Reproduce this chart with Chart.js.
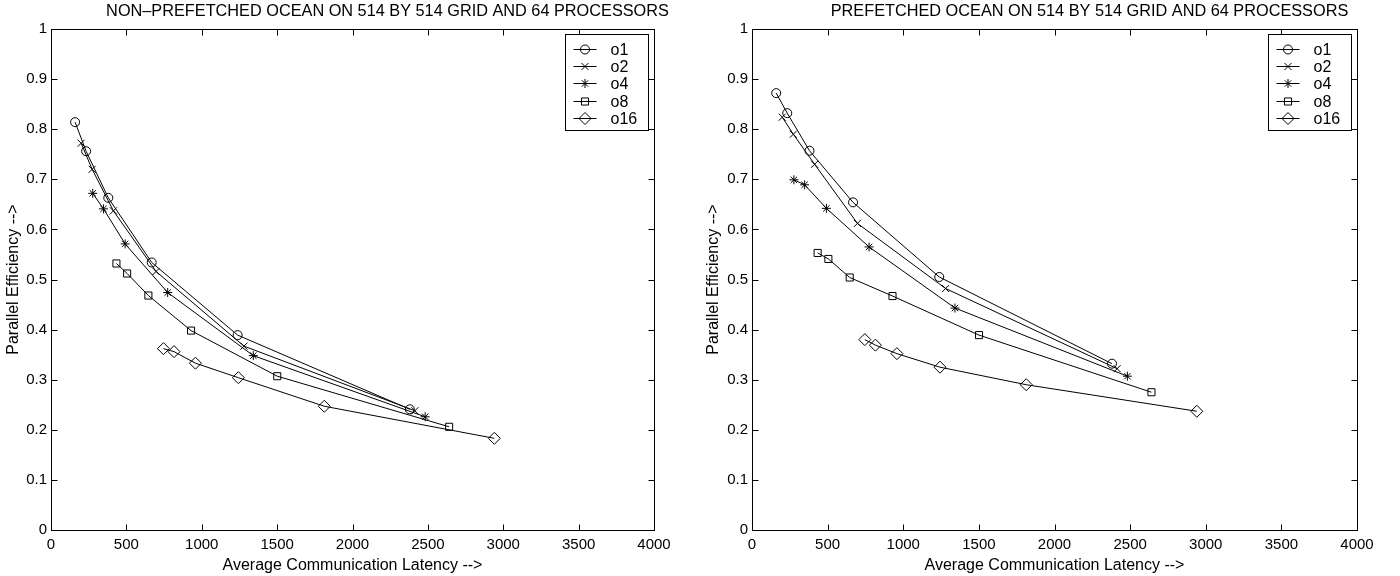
<!DOCTYPE html>
<html>
<head>
<meta charset="utf-8">
<script src="https://cdn.jsdelivr.net/npm/chart.js@4.4.0/dist/chart.umd.min.js"></script>
<style>
  html, body { margin: 0; padding: 0; background: #fff; }
  #wrap { position: relative; width: 1400px; height: 576px; }
  .pane { position: absolute; top: 0; width: 700px; height: 576px; }
</style>
</head>
<body>
<div id="wrap">
  <div class="pane" style="left:0"><canvas id="leftChart" width="700" height="576"></canvas></div>
  <div class="pane" style="left:700px"><canvas id="rightChart" width="700" height="576"></canvas></div>
</div>
<script>
// Series names and average communication latency (x) per series
const seriesNames = ['o1', 'o2', 'o4', 'o8', 'o16'];
const latO1  = [160, 233, 380, 668, 1238, 2380];
const latO2  = [200, 273, 414, 697, 1280, 2414];
const latO4  = [277, 348, 492, 774, 1342, 2482];
const latO8  = [434, 505, 646, 929, 1501, 2641];
const latO16 = [746, 816, 958, 1243, 1813, 2941];

// Parallel efficiency, non-prefetched
const npO1  = [0.814, 0.756, 0.663, 0.534, 0.389, 0.241];
const npO2  = [0.772, 0.720, 0.637, 0.516, 0.367, 0.238];
const npO4  = [0.672, 0.641, 0.571, 0.474, 0.348, 0.226];
const npO8  = [0.532, 0.512, 0.468, 0.398, 0.307, 0.206];
const npO16 = [0.362, 0.356, 0.333, 0.304, 0.247, 0.183];

// Parallel efficiency, prefetched
const pfO1  = [0.872, 0.832, 0.757, 0.654, 0.505, 0.332];
const pfO2  = [0.824, 0.790, 0.730, 0.612, 0.482, 0.322];
const pfO4  = [0.699, 0.689, 0.642, 0.565, 0.443, 0.307];
const pfO8  = [0.553, 0.541, 0.504, 0.467, 0.389, 0.275];
const pfO16 = [0.380, 0.369, 0.352, 0.325, 0.290, 0.237];

// Tick values
const xTicks = [0, 500, 1000, 1500, 2000, 2500, 3000, 3500, 4000];
const yTicks = [0, 0.1, 0.2, 0.3, 0.4, 0.5, 0.6, 0.7, 0.8, 0.9, 1];

const lats = [latO1, latO2, latO4, latO8, latO16];
const markers = [
  { style: 'circle',   radius: 4.5 },
  { style: 'crossRot', radius: 5 },
  { style: 'star',     radius: 4.5 },
  { style: 'rect',     radius: 5 },
  { style: 'rectRot',  radius: 6 }
];

const FONT = "'Liberation Sans', Arial, Helvetica, sans-serif";
Chart.defaults.font.family = FONT;
Chart.defaults.font.size = 15;
Chart.defaults.color = '#000';

// draws the box, inward ticks, title and matlab style legend
const matlabPlot = {
  id: 'matlabPlot',
  afterDraw(chart, args, opts) {
    const ctx = chart.ctx;
    const a = chart.chartArea;
    const xs = chart.scales.x, ys = chart.scales.y;
    ctx.save();
    ctx.strokeStyle = '#000';
    ctx.lineWidth = 1;
    const L = Math.round(a.left) + 0.5, R = Math.round(a.right) + 0.5;
    const T = Math.round(a.top) + 0.5, B = Math.round(a.bottom) + 0.5;
    ctx.strokeRect(L, T, R - L, B - T);
    ctx.beginPath();
    xs.ticks.forEach(t => {
      const px = Math.round(xs.getPixelForValue(t.value)) + 0.5;
      ctx.moveTo(px, B); ctx.lineTo(px, B - 6);
      ctx.moveTo(px, T); ctx.lineTo(px, T + 6);
    });
    ys.ticks.forEach(t => {
      const py = Math.round(ys.getPixelForValue(t.value)) + 0.5;
      ctx.moveTo(L, py); ctx.lineTo(L + 6, py);
      ctx.moveTo(R, py); ctx.lineTo(R - 6, py);
    });
    ctx.stroke();

    // title
    ctx.fillStyle = '#000';
    ctx.font = '16.3px ' + FONT;
    ctx.textAlign = 'center';
    ctx.textBaseline = 'alphabetic';
    ctx.fillText(opts.title, (a.left + a.right) / 2 + 35, 16);

    // legend
    const bw = 83, bh = 96;
    const bx = Math.round(a.right - 6 - bw) + 0.5, by = Math.round(a.top + 5) + 0.5;
    ctx.fillStyle = '#fff';
    ctx.fillRect(bx, by, bw, bh);
    ctx.strokeRect(bx, by, bw, bh);
    ctx.font = '16px ' + FONT;
    ctx.textBaseline = 'middle';
    chart.data.datasets.forEach((ds, i) => {
      const ly = Math.round(by + 14 + i * 17.4) + 0.5;
      ctx.beginPath();
      ctx.moveTo(bx + 8, ly); ctx.lineTo(bx + 31, ly);
      ctx.stroke();
      ctx.fillStyle = 'rgba(0,0,0,0)';
      Chart.helpers.drawPoint(ctx, {
        pointStyle: ds.pointStyle, radius: ds.pointRadius, borderWidth: 1, rotation: 0
      }, bx + 19.5, ly);
      ctx.fillStyle = '#000';
      ctx.textAlign = 'left';
      ctx.fillText(ds.label, bx + 45, ly + 1);
    });
    ctx.restore();
  }
};

function makeChart(id, title, effs, yWidth, padRight) {
  const datasets = effs.map((ys, i) => ({
    label: seriesNames[i],
    data: ys.map((v, j) => ({ x: lats[i][j], y: v })),
    showLine: true,
    borderColor: '#000',
    borderWidth: 1,
    pointStyle: markers[i].style,
    pointRadius: markers[i].radius,
    pointBorderWidth: 1,
    pointBorderColor: '#000',
    pointBackgroundColor: 'rgba(0,0,0,0)'
  }));
  return new Chart(document.getElementById(id), {
    type: 'scatter',
    data: { datasets: datasets },
    options: {
      responsive: false,
      animation: false,
      layout: { padding: { top: 29, right: padRight, left: 0, bottom: 0 } },
      plugins: {
        legend: { display: false },
        tooltip: { enabled: false },
        matlabPlot: { title: title }
      },
      scales: {
        x: {
          type: 'linear', min: 0, max: 4000,
          afterBuildTicks: s => { s.ticks = xTicks.map(v => ({ value: v })); },
          afterFit: s => { s.height = 46; },
          ticks: { padding: 6, maxRotation: 0, callback: v => String(v) },
          grid: { display: false, drawTicks: false },
          border: { display: false },
          title: { display: true, text: 'Average Communication Latency -->', font: { size: 16 },
                   padding: { top: 0, bottom: 1 } }
        },
        y: {
          type: 'linear', min: 0, max: 1,
          afterBuildTicks: s => { s.ticks = yTicks.map(v => ({ value: v })); },
          afterFit: s => { s.width = yWidth; },
          ticks: { padding: 4, callback: v => String(v) },
          grid: { display: false, drawTicks: false },
          border: { display: false },
          title: { display: true, text: 'Parallel Efficiency -->', font: { size: 16 },
                   padding: { top: 4, bottom: 0 } }
        }
      }
    },
    plugins: [matlabPlot]
  });
}

makeChart('leftChart', 'NON\u2013PREFETCHED OCEAN ON 514 BY 514 GRID AND 64 PROCESSORS',
  [npO1, npO2, npO4, npO8, npO16], 51, 46);
makeChart('rightChart', 'PREFETCHED OCEAN ON 514 BY 514 GRID AND 64 PROCESSORS',
  [pfO1, pfO2, pfO4, pfO8, pfO16], 52, 43);
</script>
</body>
</html>
